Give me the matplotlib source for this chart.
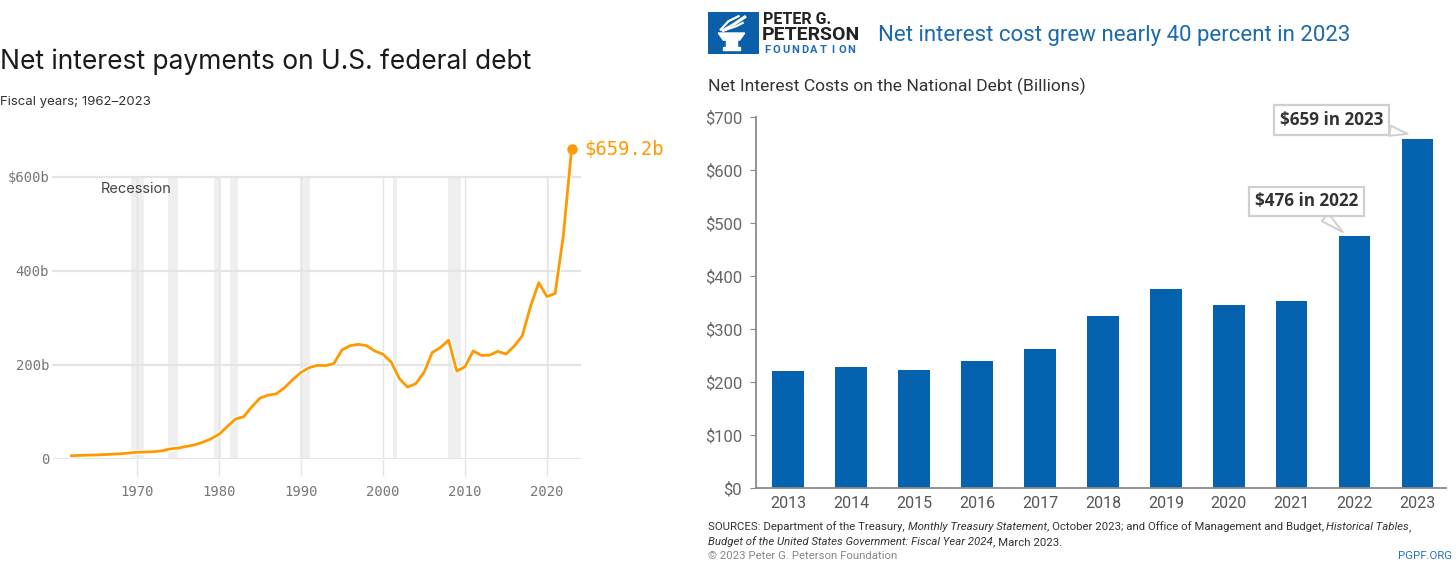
import matplotlib
matplotlib.use("Agg")
import matplotlib.pyplot as plt
import matplotlib.patheffects as pe
from matplotlib.patches import Polygon, Rectangle

# ---- data: left panel (net interest, billions, fiscal years)
years = list(range(1962, 2024))
net_interest = [6.9, 7.7, 8.2, 8.6, 9.4, 10.3, 11.1, 12.7, 14.4, 14.8,
                15.5, 17.3, 21.4, 23.2, 26.7, 29.9, 35.5, 42.6, 52.5, 68.8,
                85.0, 89.8, 111.1, 129.5, 136.0, 138.6, 151.8, 169.0, 184.3, 194.4,
                199.3, 198.7, 202.9, 232.1, 241.1, 244.0, 241.1, 229.8, 222.9, 206.2,
                170.9, 153.1, 160.2, 184.0, 226.6, 237.1, 252.8, 186.9, 196.2, 230.0,
                220.4, 220.9, 229.0, 223.2, 240.0, 262.6, 325.0, 375.2, 345.5, 352.3,
                475.9, 659.2]
recession_start = [1969.3, 1973.8, 1979.4, 1981.3, 1989.9, 2001.2, 2007.9, 2020.0]
recession_end = [1970.8, 1975.0, 1980.3, 1982.3, 1991.1, 2001.7, 2009.5, 2020.3]
left_xticks = [1970, 1980, 1990, 2000, 2010, 2020]
left_yticks = [0, 200, 400, 600]
left_ylabels = ["0", "200b", "400b", "$600b"]

# ---- data: right panel (bars)
bar_years = ["2013", "2014", "2015", "2016", "2017", "2018", "2019", "2020", "2021", "2022", "2023"]
bar_values = [221, 229, 223, 240, 263, 325, 375, 345, 352, 476, 659]
right_yticks = [0, 100, 200, 300, 400, 500, 600, 700]
right_ylabels = ["$0", "$100", "$200", "$300", "$400", "$500", "$600", "$700"]

W, H = 1456, 569
fig = plt.figure(figsize=(W / 100, H / 100), dpi=100)


def box(l, t, r, b):
    # pixel box -> figure fraction
    return [l / W, 1 - b / H, (r - l) / W, (b - t) / H]


def fx(x):
    return x / W


def fy(y):
    return 1 - y / H


mono = "DejaVu Sans Mono"
orange = "#ff9900"
grid_c = "#e4e4e4"

# ================= left panel =================
ax = fig.add_axes(box(52, 140, 581, 459))
ax.set_xlim(1959.63, 2024.15)
ax.set_ylim(0, (459 - 140) / 0.47)
for s in ax.spines.values():
    s.set_visible(False)

for a, b in zip(recession_start, recession_end):
    ax.fill_between([a, b], 0, 600, color="#efefef", lw=0, zorder=1)
ax.vlines(left_xticks, 0, 600, color=grid_c, lw=1, zorder=1.5)
for v in left_yticks:
    ax.axhline(v, color=grid_c, lw=2.2 if v == 0 else 1.6, zorder=1.6)

ax.plot(years, net_interest, color=orange, lw=2, zorder=3, clip_on=False,
        solid_joinstyle="round",
        path_effects=[pe.Stroke(linewidth=4, foreground="white"), pe.Normal()])
ax.plot([years[-1]], [net_interest[-1]], "o", color=orange, ms=6.5, zorder=4, clip_on=False)
ax.annotate("$%.1fb" % net_interest[-1], (years[-1], net_interest[-1]),
            xytext=(9, 0), textcoords="offset points", va="center", ha="left",
            color=orange, fontsize=13.6, family=mono, annotation_clip=False)
ax.text(1965.6, 575, "Recession", fontsize=10.5, color="#444", family="Inter",
        va="center", ha="left")

ax.set_xticks(left_xticks)
ax.set_xticklabels([str(t) for t in left_xticks], family=mono, fontsize=10, color="#777")
ax.set_yticks(left_yticks)
ax.set_yticklabels(left_ylabels, family=mono, fontsize=10, color="#777")
ax.tick_params(axis="x", length=12, width=1, color=grid_c, pad=7)
ax.tick_params(axis="y", length=0, pad=2)

fig.text(0, fy(62), "Net interest payments on U.S. federal debt", fontsize=19,
         family="Inter", color="#1a1a1a", va="center", ha="left")
fig.text(0, fy(102), "Fiscal years; 1962\u20132023", fontsize=9.5,
         family="Inter", color="#333", va="center", ha="left")

# ================= right panel =================
blue = "#0562ae"
bx = fig.add_axes(box(756, 117, 1446, 488))
xs = list(range(len(bar_years)))
bx.bar(xs, bar_values, width=0.5, color=blue, zorder=2)
bx.set_xlim(-0.51, 10.45)
bx.set_ylim(0, 700)
bx.spines["top"].set_visible(False)
bx.spines["right"].set_visible(False)
for s in ("left", "bottom"):
    bx.spines[s].set_color("#8a8a8a")
    bx.spines[s].set_linewidth(1.3)
bx.set_xticks(xs)
bx.set_xticklabels(bar_years, fontsize=11.5, color="#555", family="Roboto")
bx.set_yticks(right_yticks)
bx.set_yticklabels(right_ylabels, fontsize=12, color="#666", family="Roboto")
bx.tick_params(axis="x", length=0, pad=6)
bx.tick_params(axis="y", length=4, color="#8a8a8a", pad=6)

# callouts: (bar index, tip shift in x, tip lift in y, text offset in points)
callout_idx = [9, 10]
callout_tip = [(-0.19, 7), (-0.16, 9)]
callout_off = [(10.8, -15.5), (-17.5, -3.5)]
for i, (tx, ty), (dx, dy) in zip(callout_idx, callout_tip, callout_off):
    bx.annotate("$%d in %s" % (bar_values[i], bar_years[i]), (i + tx, bar_values[i] + ty),
                xytext=(dx, -dy), textcoords="offset points", ha="right", va="bottom",
                fontsize=12.3, fontweight="bold", color="#333", family="Open Sans",
                annotation_clip=False,
                bbox=dict(boxstyle="square,pad=0.35", fc="white", ec="#cfcfcf", lw=1.6),
                arrowprops=dict(arrowstyle="wedge,tail_width=0.6,shrink_factor=0.5",
                                fc="white", ec="#cfcfcf", lw=1.4, shrinkA=0, shrinkB=0))

# logo
lg = fig.add_axes(box(708, 12, 759, 54))
lg.set_xlim(0, 1)
lg.set_ylim(0, 1)
lg.axis("off")
lg.add_patch(Rectangle((0, 0), 1, 1, color="#0b5fa8"))
lg.add_patch(Polygon([[0.2, 0.5], [0.72, 0.5], [0.62, 0.33], [0.3, 0.33]], color="white"))
lg.add_patch(Rectangle((0.36, 0.2), 0.2, 0.13, color="white"))
lg.add_patch(Rectangle((0.3, 0.1), 0.32, 0.07, color="white"))
lg.plot([0.3, 0.5, 0.72], [0.56, 0.7, 0.88], color="white", lw=2.2)
lg.plot([0.35, 0.55, 0.68], [0.58, 0.66, 0.74], color="white", lw=1.6)
lg.plot([0.25, 0.4, 0.6], [0.58, 0.78, 0.9], color="white", lw=1.6)

fig.text(fx(763), fy(19), "PETER G.", fontsize=11.5, fontweight="bold", color="#222",
         family="Roboto", va="center", ha="left")
fig.text(fx(762), fy(35), "PETERSON", fontsize=14, fontweight="bold", color="#222",
         family="Roboto", va="center", ha="left")
for k, ch in enumerate("FOUNDATION"):
    fig.text(fx(767 + k * 9.4), fy(50), ch, fontsize=8, fontweight="bold", color="#1f6db3",
             family="Roboto", va="center", ha="center")

fig.text(fx(878), fy(35), "Net interest cost grew nearly 40 percent in 2023", fontsize=16,
         color="#1a6aad", family="Roboto", va="center", ha="left")
fig.text(fx(708), fy(86), "Net Interest Costs on the National Debt (Billions)", fontsize=12.6,
         color="#333", family="Roboto", va="center", ha="left")

# sources with italic pieces
renderer = fig.canvas.get_renderer()


def seq_text(x, y, parts, **kw):
    for txt, style in parts:
        t = fig.text(fx(x), fy(y), txt, style=style, va="center", ha="left", **kw)
        x += t.get_window_extent(renderer).width


src_kw = dict(fontsize=8.2, color="#333", family="Roboto")
seq_text(708, 527, [("SOURCES: Department of the Treasury, ", "normal"),
                    ("Monthly Treasury Statement", "italic"),
                    (", October 2023; and Office of Management and Budget, ", "normal"),
                    ("Historical Tables", "italic"), (",", "normal")], **src_kw)
seq_text(708, 542, [("Budget of the United States Government: Fiscal Year 2024", "italic"),
                    (", March 2023.", "normal")], **src_kw)
fig.text(fx(708), fy(556), "\u00a9 2023 Peter G. Peterson Foundation", fontsize=8.2,
         color="#888", family="Roboto", va="center", ha="left")
fig.text(fx(1452), fy(556), "PGPF.ORG", fontsize=8.2, color="#2a73b8", family="Roboto",
         va="center", ha="right")

fig.savefig("out.png", dpi=100)
